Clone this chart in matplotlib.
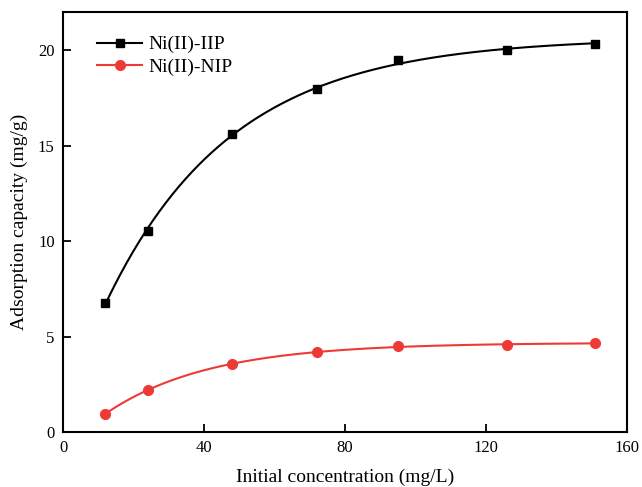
import numpy as np
import matplotlib
matplotlib.use("Agg")
import matplotlib.pyplot as plt

plt.rcParams['font.family'] = ['Liberation Serif', 'DejaVu Serif']

conc = [12, 24, 48, 72, 95, 126, 151]
iip = [6.75, 10.55, 15.6, 17.95, 19.5, 20.0, 20.3]
nip = [0.95, 2.2, 3.55, 4.2, 4.5, 4.55, 4.65]

def fit_curve(x, y):
    # least-squares fit of y = a - b*exp(-k x), grid search on k
    x = np.asarray(x, float); y = np.asarray(y, float)
    best = None
    for k in np.linspace(0.005, 0.2, 2000):
        A = np.column_stack([np.ones_like(x), -np.exp(-k * x)])
        coef, *_ = np.linalg.lstsq(A, y, rcond=None)
        r = np.sum((A @ coef - y) ** 2)
        if best is None or r < best[0]:
            best = (r, k, coef)
    _, k, (a, b) = best
    xs = np.linspace(x.min(), x.max(), 300)
    return xs, a - b * np.exp(-k * xs)

fig = plt.figure(figsize=(6.42, 4.87), dpi=100)
ax = fig.add_axes([63/642, 1 - 432/487, 564/642, 420/487])

red = '#ee3a35'
xs, ys = fit_curve(conc, iip)
ax.plot(xs, ys, color='black', lw=1.5)
xs, ys = fit_curve(conc, nip)
ax.plot(xs, ys, color=red, lw=1.5)
ax.plot(conc, iip, 's', color='black', ms=6, ls='none')
ax.plot(conc, nip, 'o', color=red, ms=7, ls='none')

h1, = ax.plot([], [], '-s', color='black', ms=6, lw=1.5, label='Ni(II)-IIP')
h2, = ax.plot([], [], '-o', color=red, ms=7, lw=1.5, label='Ni(II)-NIP')
ax.legend(handles=[h1, h2], loc='upper left', frameon=False, fontsize=14,
          bbox_to_anchor=(0.03, 0.985), handlelength=2.3, handletextpad=0.3,
          labelspacing=0.25)

ax.set_xlim(0, 160)
ax.set_ylim(0, 22)
ax.set_xticks([0, 40, 80, 120, 160])
ax.set_yticks([0, 5, 10, 15, 20])
ax.tick_params(direction='in', length=6, width=1.3, labelsize=12, pad=6)
for s in ax.spines.values():
    s.set_linewidth(1.5)

ax.set_xlabel('Initial concentration (mg/L)', fontsize=14, labelpad=9)
ax.set_ylabel('Adsorption capacity (mg/g)', fontsize=14, labelpad=7)

fig.savefig('out.png', dpi=100)
